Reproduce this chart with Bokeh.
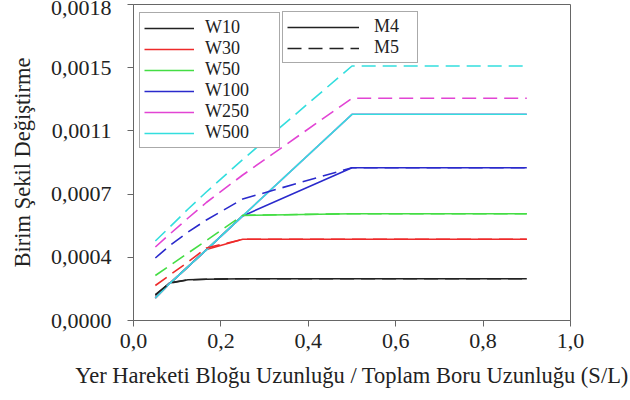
from bokeh.plotting import figure
from bokeh.models import Range1d, FixedTicker, Legend, LegendItem
from bokeh.embed import file_html
from bokeh.resources import INLINE

# S/L ratio
x = [0.05, 0.0833, 0.125, 0.1667, 0.25, 0.5, 0.9]

# M4 (solid)
w10_m4 = [0.0001451, 0.0002177, 0.0002344, 0.0002373, 0.0002407, 0.0002407, 0.0002407]
w30_m4 = [0.0001296, 0.0002143, 0.0003099, 0.0004089, 0.0004677, 0.0004677, 0.0004677]
w50_m4 = [0.0001296, 0.0002143, 0.0003099, 0.0004072, 0.0006047, 0.0006151, 0.0006151]
w100_m4 = [0.0001296, 0.0002143, 0.0003099, 0.0004072, 0.0006024, 0.0008801, 0.0008801]
w250_m4 = [0.0001296, 0.0002143, 0.0003099, 0.0004072, 0.0006024, 0.0011876, 0.0011876]
w500_m4 = [0.0001296, 0.0002143, 0.0003099, 0.0004072, 0.0006024, 0.0011876, 0.0011876]

# M5 (dashed)
w10_m5 = [0.0001497, 0.0002160, 0.0002333, 0.0002379, 0.0002407, 0.0002407, 0.0002407]
w30_m5 = [0.0002016, 0.0002621, 0.0003369, 0.0004176, 0.0004677, 0.0004677, 0.0004677]
w50_m5 = [0.0002592, 0.0003168, 0.0003888, 0.0004608, 0.0006059, 0.0006151, 0.0006151]
w100_m5 = [0.0003600, 0.0004320, 0.0005097, 0.0005788, 0.0006998, 0.0008801, 0.0008801]
w250_m5 = [0.0004233, 0.0004982, 0.0005903, 0.0006796, 0.0008380, 0.0012798, 0.0012798]
w500_m5 = [0.0004579, 0.0005385, 0.0006422, 0.0007401, 0.0009273, 0.0014658, 0.0014658]

series_names = ["W10", "W30", "W50", "W100", "W250", "W500"]
model_names = ["M4", "M5"]
colors = ["#222222", "#ee2a2a", "#44dd44", "#2a2acc", "#e244d4", "#33dede"]

x_ticks = [0.0, 0.2, 0.4, 0.6, 0.8, 1.0]
y_ticks = [0.0, 0.000364, 0.000728, 0.001092, 0.001456, 0.00182]

x_label = "Yer Hareketi Bloğu Uzunluğu / Toplam Boru Uzunluğu (S/L)"
y_label = "Birim Şekil Değiştirme"

FONT = "'Liberation Serif', 'Times New Roman', serif"
TXT = "#222222"

p = figure(width=630, height=400, output_backend="svg", toolbar_location=None,
           x_range=Range1d(0, 1.0), y_range=Range1d(0, 0.00182),
           min_border_left=133, min_border_right=60, min_border_top=4, min_border_bottom=80)
p.xgrid.visible = False
p.ygrid.visible = False
p.outline_line_color = "#666666"
p.background_fill_color = "white"
p.border_fill_color = "white"

m4 = [w10_m4, w30_m4, w50_m4, w100_m4, w250_m4, w500_m4]
m5 = [w10_m5, w30_m5, w50_m5, w100_m5, w250_m5, w500_m5]

solid_r = []
for ys, c in zip(m4, colors):
    solid_r.append(p.line(x, ys, line_color=c, line_width=1.6))
dashed_r = []
for ys, c in zip(m5, colors):
    dashed_r.append(p.line(x, ys, line_color=c, line_width=1.6, line_dash="14 7"))

for ax in (p.xaxis[0], p.yaxis[0]):
    ax.axis_line_color = "#666666"
    ax.major_tick_line_color = "#666666"
    ax.major_tick_out = 6
    ax.major_tick_in = 0
    ax.minor_tick_line_color = None
    ax.major_label_text_font = FONT
    ax.major_label_text_font_size = "22px"
    ax.major_label_text_color = TXT
    ax.axis_label_text_font = FONT
    ax.axis_label_text_font_size = "22.5px"
    ax.axis_label_text_font_style = "normal"
    ax.axis_label_text_color = TXT

p.xaxis.ticker = FixedTicker(ticks=x_ticks)
p.xaxis.major_label_overrides = {t: ("%.1f" % t).replace(".", ",") for t in x_ticks}
p.yaxis.ticker = FixedTicker(ticks=y_ticks)
p.yaxis.major_label_overrides = {t: ("%.4f" % t).replace(".", ",") for t in y_ticks}
p.xaxis.axis_label = x_label
p.yaxis.axis_label = y_label
p.xaxis.major_label_standoff = 7
p.yaxis.major_label_standoff = 16
p.xaxis.axis_label_standoff = 12
p.yaxis.axis_label_standoff = 13

leg1 = Legend(items=[LegendItem(label=n, renderers=[r]) for n, r in zip(series_names, solid_r)],
              location=(6, 172), padding=4, spacing=0, margin=0,
              label_height=20, glyph_height=20, glyph_width=50, label_standoff=11, label_width=70,
              label_text_font=FONT, label_text_font_size="18px", label_text_color=TXT,
              border_line_color="#555555", border_line_width=1, background_fill_alpha=1.0)
leg2 = Legend(items=[LegendItem(label=model_names[0], renderers=[solid_r[0]]),
                     LegendItem(label=model_names[1], renderers=[dashed_r[0]])],
              location=(149, 257), padding=4, spacing=0, margin=0,
              label_height=20, glyph_height=20, glyph_width=72, label_standoff=15, label_width=39,
              label_text_font=FONT, label_text_font_size="18px", label_text_color=TXT,
              border_line_color="#555555", border_line_width=1, background_fill_alpha=1.0)
p.add_layout(leg1, "center")
p.add_layout(leg2, "center")

open("out.html", "w").write(file_html(p, INLINE))
